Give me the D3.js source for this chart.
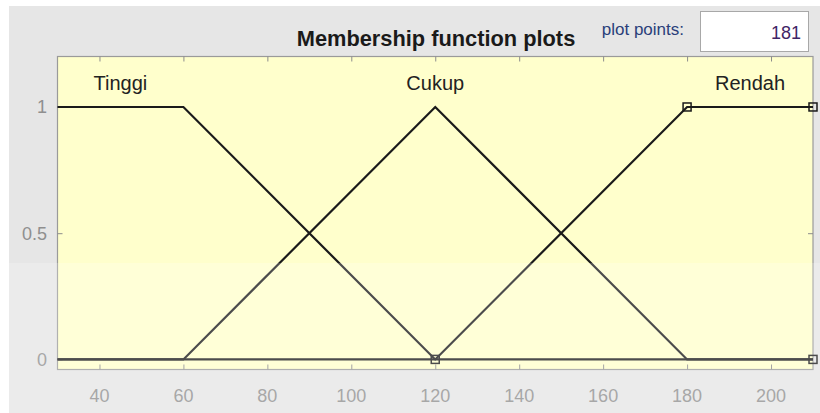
<!DOCTYPE html>
<html><head><meta charset="utf-8">
<script src="https://cdn.jsdelivr.net/npm/d3@7"></script>
<style>html,body{margin:0;padding:0;background:#fff;}svg{display:block;}</style>
</head><body>
<script>
const xTicks = [40, 60, 80, 100, 120, 140, 160, 180, 200];
const yTicks = [0, 0.5, 1];
const yTickLabels = ["0", "0.5", "1"];
const mfNames = ["Tinggi", "Cukup", "Rendah"];
const mfLabelX = [45, 120, 195];
const tinggiX = [30, 60, 120, 210];
const tinggiY = [1, 1, 0, 0];
const cukupX = [30, 60, 120, 180, 210];
const cukupY = [0, 0, 1, 0, 0];
const rendahX = [30, 120, 180, 210];
const rendahY = [0, 0, 1, 1];
const rendahParamX = [120, 180, 210, 210];
const rendahParamY = [0, 1, 1, 0];
const plotPoints = "181";

const W = 820, H = 413;
const FONT = "Liberation Sans, Arial, Helvetica, sans-serif";
const svg = d3.select("body").append("svg").attr("width", W).attr("height", H);
svg.append("rect").attr("x", 9).attr("y", 6).attr("width", W - 9).attr("height", H - 6).attr("fill", "#e6e6e6");

const x = d3.scaleLinear().domain([30, 210]).range([57.5, 813]);
const y = d3.scaleLinear().domain([-0.04, 1.2]).range([369.5, 56.5]);

// plot area
svg.append("rect").attr("x", x(30)).attr("y", y(1.2)).attr("width", x(210) - x(30)).attr("height", y(-0.04) - y(1.2))
  .attr("fill", "#ffffcc").attr("stroke", "#9a9a9a").attr("stroke-width", 1.2);

// ticks
const tickCol = "#8c8c8c";
svg.append("g").attr("transform", `translate(0,${y(-0.04)})`)
  .call(d3.axisBottom(x).tickValues(xTicks).tickSize(-5).tickFormat(""))
  .call(g => { g.select(".domain").remove(); g.selectAll("line").attr("stroke", tickCol); });
svg.append("g").attr("transform", `translate(0,${y(1.2)})`)
  .call(d3.axisTop(x).tickValues(xTicks).tickSize(-5).tickFormat(""))
  .call(g => { g.select(".domain").remove(); g.selectAll("line").attr("stroke", tickCol); });
svg.append("g").attr("transform", `translate(${x(30)},0)`)
  .call(d3.axisLeft(y).tickValues(yTicks).tickSize(-5).tickFormat(""))
  .call(g => { g.select(".domain").remove(); g.selectAll("line").attr("stroke", tickCol); });
svg.append("g").attr("transform", `translate(${x(210)},0)`)
  .call(d3.axisRight(y).tickValues(yTicks).tickSize(-5).tickFormat(""))
  .call(g => { g.select(".domain").remove(); g.selectAll("line").attr("stroke", tickCol); });

// tick labels
svg.append("g").selectAll("text").data(xTicks).join("text")
  .attr("x", d => x(d)).attr("y", 402).attr("text-anchor", "middle")
  .attr("font-family", FONT).attr("font-size", 18).attr("fill", "#8f8f8f")
  .text(d => d);
svg.append("g").selectAll("text").data(yTicks).join("text")
  .attr("x", 47).attr("y", d => y(d) + 6.5).attr("text-anchor", "end")
  .attr("font-family", FONT).attr("font-size", 18).attr("fill", "#8f8f8f")
  .text((d, i) => yTickLabels[i]);

// membership functions
const line = d3.line().x(d => x(d[0])).y(d => y(d[1]));
const series = [d3.zip(tinggiX, tinggiY), d3.zip(cukupX, cukupY), d3.zip(rendahX, rendahY)];
svg.append("g").selectAll("path").data(series).join("path")
  .attr("d", line).attr("fill", "none").attr("stroke", "#1a1a1a").attr("stroke-width", 2.2).attr("stroke-linejoin", "miter");

// parameter markers of selected MF
svg.append("g").selectAll("rect").data(d3.zip(rendahParamX, rendahParamY)).join("rect")
  .attr("x", d => x(d[0]) - 4).attr("y", d => y(d[1]) - 4).attr("width", 8).attr("height", 8)
  .attr("fill", "none").attr("stroke", "#1a1a1a").attr("stroke-width", 1.5);

// MF labels
svg.append("g").selectAll("text").data(mfNames).join("text")
  .attr("x", (d, i) => x(mfLabelX[i])).attr("y", 90).attr("text-anchor", "middle")
  .attr("font-family", FONT).attr("font-size", 20).attr("fill", "#222")
  .text(d => d);

// title
svg.append("text").attr("x", 436).attr("y", 46).attr("text-anchor", "middle")
  .attr("font-family", FONT).attr("font-size", 21.8).attr("font-weight", "bold").attr("fill", "#1a1a1a")
  .text("Membership function plots");

// plot points control
svg.append("text").attr("x", 684).attr("y", 35).attr("text-anchor", "end")
  .attr("font-family", FONT).attr("font-size", 17).attr("fill", "#2a3f7a")
  .text("plot points:");
svg.append("rect").attr("x", 700.5).attr("y", 11.5).attr("width", 108).attr("height", 40)
  .attr("fill", "#ffffff").attr("stroke", "#a8a8a8");
svg.append("text").attr("x", 801).attr("y", 39).attr("text-anchor", "end")
  .attr("font-family", FONT).attr("font-size", 18).attr("fill", "#3f2466")
  .text(plotPoints);

// faint watermark overlay on the lower part
svg.append("rect").attr("x", 9).attr("y", 263).attr("width", W - 9).attr("height", H - 263)
  .attr("fill", "#ffffff").attr("opacity", 0.22).attr("pointer-events", "none");
</script>
</body></html>
